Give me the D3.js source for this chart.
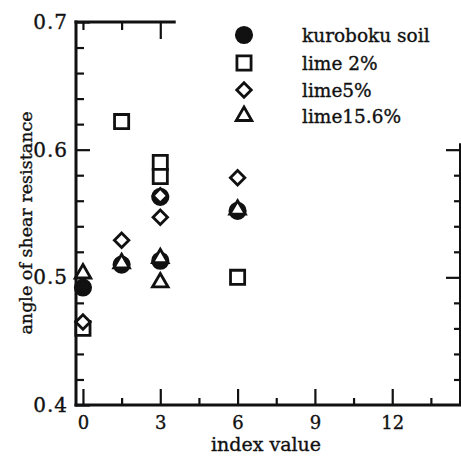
<!DOCTYPE html>
<html><head><meta charset="utf-8">
<script src="https://cdn.jsdelivr.net/npm/d3@7"></script>
<style>
html,body{margin:0;padding:0;background:#fff;}
svg{display:block;}
text{font-family:"DejaVu Serif",serif;fill:#111;stroke:#111;stroke-width:0.35px;}
.tick line{stroke:#111;stroke-width:2.2px;}
</style></head>
<body>
<svg id="chart" width="461" height="464"></svg>
<script>
// ---- data ----
const seriesNames = ["kuroboku soil", "lime 2%", "lime5%", "lime15.6%"];
const kurobokuX = [0, 1.5, 3, 3, 6];
const kurobokuY = [0.492, 0.510, 0.563, 0.513, 0.552];
const lime2X = [0, 1.5, 3, 3, 6];
const lime2Y = [0.460, 0.622, 0.590, 0.579, 0.500];
const lime5X = [0, 1.5, 3, 3, 6];
const lime5Y = [0.465, 0.529, 0.564, 0.547, 0.578];
const lime156X = [0, 1.5, 3, 3, 6];
const lime156Y = [0.503, 0.511, 0.515, 0.496, 0.553];
const xTickLabels = [0, 3, 6, 9, 12];
const yTickLabels = [0.4, 0.5, 0.6, 0.7];
const xMinorTicks = [1.5, 4.5, 7.5, 10.5, 13.5];
const yMinorTicks = [0.42, 0.44, 0.46, 0.48, 0.52, 0.54, 0.56, 0.58, 0.62, 0.64, 0.66, 0.68];

const svg = d3.select("#chart");
const x = d3.scaleLinear().domain([-0.27, 14.63]).range([76, 460]);
const y = d3.scaleLinear().domain([0.4, 0.7]).range([405, 22]);
const ink = "#111";

function styleAxis(sel) {
  sel.select(".domain").remove();
}

// bottom major ticks + labels
svg.append("g").attr("transform", `translate(0,${y(0.4)})`)
  .call(d3.axisBottom(x).tickValues(xTickLabels).tickSize(-16).tickPadding(11).tickFormat(d3.format("d")))
  .call(s => { styleAxis(s); s.selectAll("text").attr("font-size", 18).attr("fill", ink).attr("font-family", "DejaVu Serif"); });
// bottom minor
svg.append("g").attr("transform", `translate(0,${y(0.4)})`)
  .call(d3.axisBottom(x).tickValues(xMinorTicks).tickSize(-7).tickFormat(""))
  .call(styleAxis);
// top ticks
svg.append("g").attr("transform", `translate(0,${y(0.7)})`)
  .call(d3.axisTop(x).tickValues([0, 1.5]).tickSize(-8).tickFormat(""))
  .call(styleAxis);
svg.append("g").attr("transform", `translate(0,${y(0.7)})`)
  .call(d3.axisTop(x).tickValues([3]).tickSize(-17).tickFormat(""))
  .call(styleAxis);
// left major + labels
svg.append("g").attr("transform", `translate(${x(-0.27)},0)`)
  .call(d3.axisLeft(y).tickValues(yTickLabels).tickSize(-14).tickPadding(8).tickFormat(d3.format(".1f")))
  .call(s => { styleAxis(s); s.selectAll("text").attr("font-size", 20).attr("fill", ink).attr("letter-spacing", 1).attr("font-family", "DejaVu Serif"); });
// left minor
svg.append("g").attr("transform", `translate(${x(-0.27)},0)`)
  .call(d3.axisLeft(y).tickValues(yMinorTicks).tickSize(-8).tickFormat(""))
  .call(styleAxis);
// right ticks
svg.append("g").attr("transform", `translate(${x(14.63)},0)`)
  .call(d3.axisRight(y).tickValues([0.5, 0.6]).tickSize(-14).tickFormat(""))
  .call(styleAxis);
svg.append("g").attr("transform", `translate(${x(14.63)},0)`)
  .call(d3.axisRight(y).tickValues(yMinorTicks.filter(d => d < 0.6)).tickSize(-6).tickFormat(""))
  .call(styleAxis);

// frame
const frame = svg.append("g").attr("fill", "none").attr("stroke", ink);
frame.append("path").attr("stroke-width", 3)
  .attr("d", `M${x(-0.27)},${y(0.7) - 1.5}V${y(0.4) + 1.5}`);
frame.append("path").attr("stroke-width", 3)
  .attr("d", `M${x(-0.27) - 1.5},${y(0.4)}H${x(14.63) + 1}`);
frame.append("path").attr("stroke-width", 3)
  .attr("d", `M${x(-0.27) - 1.5},${y(0.7)}H${x(3.6)}`);
frame.append("path").attr("stroke-width", 2)
  .attr("d", `M${x(14.63)},${y(0.605)}V${y(0.4)}`);

// axis titles
svg.append("text").attr("x", 266).attr("y", 451).attr("text-anchor", "middle")
  .attr("font-size", 19).text("index value");
svg.append("text").attr("transform", "translate(32,223) rotate(-90)").attr("text-anchor", "middle")
  .attr("font-size", 17.5).text("angle of shear resistance");

// ---- markers ----
const symCircle = d3.symbol().type(d3.symbolCircle).size(185);
const symSquare = d3.symbol().type(d3.symbolSquare).size(200);
const symDiamond = d3.symbol().type(d3.symbolSquare).size(105);
const symTriangle = d3.symbol().type(d3.symbolTriangle).size(105);

const series = [
  {name: seriesNames[0], xs: kurobokuX, ys: kurobokuY, path: symCircle(), fill: ink, rot: 0},
  {name: seriesNames[1], xs: lime2X, ys: lime2Y, path: symSquare(), fill: "#fff", rot: 0},
  {name: seriesNames[2], xs: lime5X, ys: lime5Y, path: symDiamond(), fill: "#fff", rot: 45},
  {name: seriesNames[3], xs: lime156X, ys: lime156Y, path: symTriangle(), fill: "#fff", rot: 0}
];

const plot = svg.append("g");
series.forEach(s => {
  plot.selectAll(null).data(s.xs.map((v, i) => [v, s.ys[i]])).join("path")
    .attr("d", s.path)
    .attr("transform", d => `translate(${x(d[0])},${y(d[1])}) rotate(${s.rot})`)
    .attr("fill", s.fill).attr("stroke", ink).attr("stroke-width", 2.8);
});

// ---- legend ----
const legY = [35, 63, 90, 116];
const leg = svg.append("g");
series.forEach((s, i) => {
  leg.append("path").attr("d", s.path)
    .attr("transform", `translate(244,${legY[i]}) rotate(${s.rot})`)
    .attr("fill", s.fill).attr("stroke", ink).attr("stroke-width", 2.8);
  leg.append("text").attr("x", 302).attr("y", legY[i] + 7)
    .attr("font-size", 18.5).text(s.name);
});
</script>
</body></html>
